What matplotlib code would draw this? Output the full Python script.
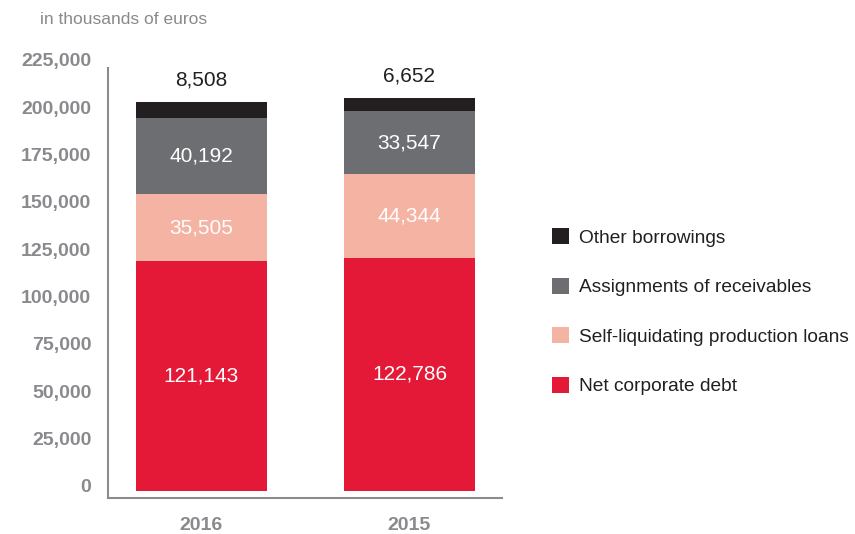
import matplotlib.pyplot as plt
import matplotlib.transforms as mtransforms

years = ["2016", "2015"]
net_debt = [121143, 122786]
self_liq = [35505, 44344]
assignments = [40192, 33547]
other = [8508, 6652]

series_names = ["Net corporate debt", "Self-liquidating production loans",
                "Assignments of receivables", "Other borrowings"]
colors = ["#e31937", "#f5b3a3", "#6d6e71", "#231f20"]
yticks = [0, 25000, 50000, 75000, 100000, 125000, 150000, 175000, 200000, 225000]

plt.rcParams["font.family"] = ["Liberation Sans", "DejaVu Sans"]
grey = "#8a8a8e"

fig = plt.figure(figsize=(8.55, 5.34), dpi=100)
ax = fig.add_axes([108 / 855, 1 - 498 / 534, 394 / 855, 438.9 / 534])

x = [0, 1]
bottom = [0, 0]
bars = []
for vals, col, name in zip([net_debt, self_liq, assignments, other], colors, series_names):
    b = ax.bar(x, vals, 0.63, bottom=bottom, color=col, label=name)
    bars.append(b)
    # labels in the middle of the segments, except the top one
    if name != "Other borrowings":
        for xi, v, b0 in zip(x, vals, bottom):
            ax.text(xi, b0 + v / 2, f"{v:,}", ha="center", va="center",
                    color="white", fontsize=15)
    else:
        for xi, v, b0 in zip(x, vals, bottom):
            ax.annotate(f"{v:,}", (xi, b0 + v), xytext=(0, 9),
                        textcoords="offset points", ha="center", va="bottom",
                        color="#231f20", fontsize=15)
    bottom = [b0 + v for b0, v in zip(bottom, vals)]

ax.set_xlim(-0.4495, 1.445)
ax.set_ylim(-3860, 228000)
ax.set_xticks(x)
ax.set_xticklabels(years)
ax.set_yticks(yticks)
ax.set_yticklabels([f"{t:,}" for t in yticks])
ax.tick_params(length=0, colors=grey, labelsize=14)
ax.tick_params(axis="y", pad=12)
ax.tick_params(axis="x", pad=13.5)
for lab in ax.get_yticklabels() + ax.get_xticklabels():
    lab.set_fontweight("bold")
offset = mtransforms.ScaledTranslation(0, 5 / 100, fig.dpi_scale_trans)
for lab in ax.get_yticklabels():
    lab.set_transform(lab.get_transform() + offset)

for s in ["top", "right"]:
    ax.spines[s].set_visible(False)
for s in ["left", "bottom"]:
    ax.spines[s].set_color("#8c8c8c")
    ax.spines[s].set_linewidth(1.5)
ax.spines["left"].set_bounds(-3860, 223300)

fig.text(40 / 855, 1 - 19 / 534, "in thousands of euros", color=grey,
         fontsize=12.5, va="center", ha="left")

handles = bars[::-1]
leg = fig.legend(handles, series_names[::-1], loc="upper left",
                 bbox_to_anchor=(552 / 855, 1 - 228 / 534), frameon=False,
                 fontsize=13.8, handlelength=0.9, handleheight=0.9,
                 handletextpad=0.5, labelspacing=1.62, borderpad=0,
                 borderaxespad=0)
for t in leg.get_texts():
    t.set_color("#231f20")

fig.savefig("out.png", dpi=100)
